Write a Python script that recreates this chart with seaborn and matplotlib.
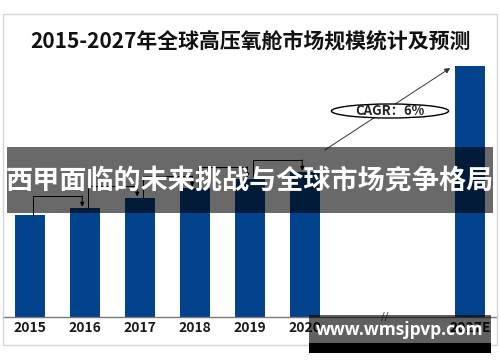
import matplotlib
matplotlib.use("Agg")
import matplotlib.pyplot as plt
import matplotlib.patches as mpatches
import seaborn as sns
import pandas as pd

# ---- data ----
years = ['2015', '2016', '2017', '2018', '2019', '2020', '2027E']
market_size = [102, 109, 119, 129, 138, 145, 251]
title_text = '2015-2027年全球高压氧舱市场规模统计及预测'
banner_text = '西甲面临的未来挑战与全球市场竞争格局'
cagr_text = 'CAGR：6%'
watermark_text = 'www.wmsjpvp.com'

sns.set_theme(style='white')
plt.rcParams['font.family'] = ['Noto Sans CJK SC', 'DejaVu Sans']

bar_color = '#03428C'
df = pd.DataFrame({'year': years, 'size': market_size})
gaps = ['gap_a', 'gap_b']
order = years[:6] + gaps + years[6:]

fig = plt.figure(figsize=(5, 3.62), dpi=100)
W, H = 500, 362
ax = fig.add_axes([3 / W, 45 / H, 494 / W, 257 / H])
sns.barplot(data=df, x='year', y='size', order=order, color=bar_color,
            width=0.545, saturation=1, ax=ax, linewidth=0)
ax.set_xlim(-0.49, 8.49)
ax.set_ylim(0, 257)
ax.set_xlabel('')
ax.set_ylabel('')
ax.set_yticks([])
for s in ['top', 'right', 'left']:
    ax.spines[s].set_visible(False)
ax.spines['bottom'].set_color('#7a7a7a')
ax.spines['bottom'].set_linewidth(1.0)
ax.set_xticks(range(len(order)))
ax.set_xticklabels(['' if o in gaps else o for o in order],
                   fontsize=10, fontweight='bold', color='#1a1a1a')
ax.tick_params(axis='x', length=0, pad=3)
ax.patch.set_alpha(0)

# break mark
ax.text(6.45, 0, '//', ha='center', va='center', fontsize=8,
        color='#555555', family='DejaVu Sans')

# growth brackets between consecutive historical bars
pos = {y: order.index(y) for y in years}
hist = years[:6]
for a, b in zip(hist[:-1], hist[1:]):
    va, vb = market_size[years.index(a)], market_size[years.index(b)]
    top = max(va, vb) + 12
    x0, x1 = pos[a] + 0.05, pos[b] - 0.05
    ax.plot([x0, x0, x1], [va, top, top], color='black', lw=0.7, zorder=3)
    ax.annotate('', xy=(x1, vb), xytext=(x1, top),
                arrowprops=dict(arrowstyle='-|>', color='black', lw=0.7,
                                mutation_scale=6, shrinkA=0, shrinkB=1),
                zorder=3)

# CAGR arrow and label
v20 = market_size[years.index('2020')]
v27 = market_size[years.index('2027E')]
ax.annotate('', xy=(pos['2027E'] - 0.36, v27 - 2),
            xytext=(pos['2020'] + 0.36, v20 + 22),
            arrowprops=dict(arrowstyle='-|>', color='#333333', lw=0.7,
                            mutation_scale=8, shrinkA=0, shrinkB=0), zorder=3)
ell = mpatches.Ellipse((6.545, 206), 2.13, 14, facecolor='white',
                       edgecolor='black', lw=1.0, zorder=4)
ax.add_patch(ell)
ax.text(6.545, 206, cagr_text, ha='center', va='center', fontsize=9.5,
        fontweight='bold', color='#222222', zorder=5)

# frame around chart
fig.add_artist(mpatches.Rectangle((3 / W, 1 - 345 / H), 494 / W, 331 / H,
                                  transform=fig.transFigure, fill=False,
                                  edgecolor='#d4d4d4', lw=1.0))

# title
fig.text(0.5, 1 - 41 / H, title_text, ha='center', va='center',
         fontsize=15, fontweight='bold', color='#111111')

# overlay banner
fig.add_artist(mpatches.Rectangle((7 / W, 1 - 213 / H), 486 / W, 66 / H,
                                  transform=fig.transFigure, facecolor='black',
                                  alpha=0.59, edgecolor='none', zorder=6))
fig.text(0.5, 1 - 181 / H, banner_text, ha='center', va='center',
         fontsize=19.5, fontweight='bold', color='white', zorder=7)

# watermark box
fig.add_artist(mpatches.Rectangle((309 / W, 1 - 343 / H), 182 / W, 28 / H,
                                  transform=fig.transFigure, facecolor='black',
                                  alpha=0.62, edgecolor='none', zorder=6))
fig.add_artist(mpatches.Rectangle((309 / W, 1 - 353 / H), 182 / W, 10 / H,
                                  transform=fig.transFigure, facecolor='black',
                                  edgecolor='none', zorder=6))
fig.text(400 / W, 1 - 330 / H, watermark_text, ha='center', va='center',
         fontsize=12.5, fontweight='bold', color='white', zorder=7,
         family=['Open Sans', 'DejaVu Sans'])

fig.savefig('out.png', dpi=100)
